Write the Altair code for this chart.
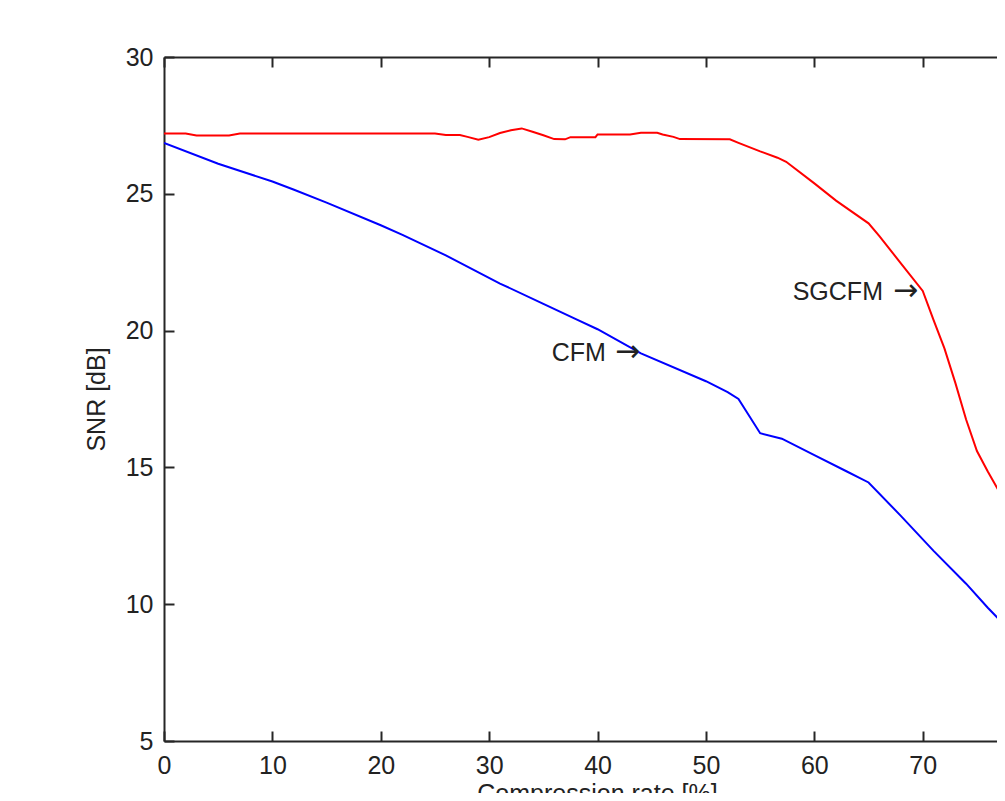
import altair as alt
import pandas as pd

# ---- data ----
sgcfm_x = [0, 2, 3, 6, 7, 25, 26, 27.3, 28, 29, 30, 31, 32, 33, 34, 35, 36, 37, 37.5, 39.8,
           40, 43, 44, 45.5, 46, 47, 47.6, 52.2, 53, 55, 56.6, 57.4, 60, 62, 65, 66, 68,
           70, 71, 72, 73, 74, 75, 76, 77, 78]
sgcfm_y = [27.2, 27.2, 27.13, 27.13, 27.2, 27.2, 27.15, 27.15, 27.08, 26.98, 27.07, 27.22,
           27.32, 27.39, 27.27, 27.14, 27.0, 26.99, 27.07, 27.07, 27.17, 27.17, 27.23, 27.23,
           27.17, 27.08, 27.0, 26.99, 26.86, 26.55, 26.32, 26.17, 25.38, 24.75, 23.92, 23.45,
           22.45, 21.45, 20.38, 19.35, 18.1, 16.75, 15.6, 14.85, 14.15, 13.3]

cfm_x = [0, 5, 10, 12, 15, 20, 22, 26, 31, 35, 38, 40, 44, 50, 52, 53, 55, 57, 60, 63,
         65, 68, 71, 74, 76, 78]
cfm_y = [26.86, 26.1, 25.45, 25.15, 24.68, 23.85, 23.5, 22.75, 21.72, 20.98, 20.42, 20.05,
         19.17, 18.15, 17.75, 17.5, 16.25, 16.05, 15.45, 14.85, 14.45, 13.22, 11.95, 10.75,
         9.87, 9.05]

label_text = ["CFM", "SGCFM"]
label_x = [35.77, 58.0]
label_y = [19.18, 21.42]
arrow_text = ["\u2192", "\u2192"]
arrow_x = [41.6, 67.25]

x_ticks = [0, 10, 20, 30, 40, 50, 60, 70]
y_ticks = [5, 10, 15, 20, 25, 30]

df_red = pd.DataFrame({"x": sgcfm_x, "y": sgcfm_y})
df_blue = pd.DataFrame({"x": cfm_x, "y": cfm_y})
df_lab = pd.DataFrame({"x": label_x, "y": label_y, "t": label_text})
df_arr = pd.DataFrame({"x": arrow_x, "y": label_y, "t": arrow_text})

W, H = 833, 684
FONT = "Liberation Sans"
INK = "#222222"

x_scale = alt.Scale(domain=[0, 76.85], nice=False, zero=False)
y_scale = alt.Scale(domain=[5, 30], nice=False, zero=False)

red = alt.Chart(df_red).mark_line(color="#ff0000", strokeWidth=2, clip=True).encode(
    x=alt.X("x:Q", scale=x_scale, axis=alt.Axis(
        orient="bottom", values=x_ticks, ticks=False, domain=True, grid=False,
        labelFlush=False, labelOverlap=False, labelBaseline="alphabetic", labelPadding=32,
        labelAlign="center",
        title="Compression rate [%]", titleX=433, titleY=60, titleBaseline="alphabetic",
        titleAlign="center")),
    y=alt.Y("y:Q", scale=y_scale, axis=alt.Axis(
        orient="left", values=y_ticks, ticks=False, domain=True, grid=False,
        labelFlush=False, labelOverlap=False, labelBaseline="middle", labelPadding=11,
        labelAlign="right",
        title="SNR [dB]", titleX=-68, titleY=342, titleAngle=270,
        titleBaseline="middle", titleAlign="center")),
)

blue = alt.Chart(df_blue).mark_line(color="#0000ff", strokeWidth=2, clip=True).encode(
    x=alt.X("x:Q", scale=x_scale, axis=alt.Axis(
        orient="top", offset=-H, values=x_ticks, labels=False, domain=False,
        ticks=True, tickSize=10, grid=False, title=None)),
    y=alt.Y("y:Q", scale=y_scale, axis=alt.Axis(
        orient="right", offset=-W, values=y_ticks, labels=False, domain=False,
        ticks=True, tickSize=10, grid=False, title=None)),
)

labels = alt.Chart(df_lab).mark_text(
    align="left", baseline="middle", font=FONT, fontSize=25, color=INK
).encode(
    x=alt.X("x:Q", scale=x_scale, axis=alt.Axis(
        orient="bottom", offset=-H, values=x_ticks, labels=False, domain=True,
        ticks=True, tickSize=10, grid=False, title=None)),
    y=alt.Y("y:Q", scale=y_scale, axis=None),
    text="t:N",
)

arrows = alt.Chart(df_arr).mark_text(
    align="left", baseline="middle", font="DejaVu Sans", fontSize=30, color=INK, dy=-1
).encode(
    x=alt.X("x:Q", scale=x_scale, axis=None),
    y=alt.Y("y:Q", scale=y_scale, axis=None),
    text="t:N",
)

chart = (
    alt.layer(red, blue, labels, arrows)
    .resolve_axis(x="independent", y="independent")
    .properties(
        width=W, height=H,
        autosize=alt.AutoSizeParams(type="none"),
        padding={"left": 156, "top": 49, "right": 0, "bottom": 52},
        background="white",
    )
    .configure_view(stroke=None)
    .configure_axis(
        labelFont=FONT, labelFontSize=25, labelColor=INK,
        titleFont=FONT, titleFontSize=25, titleColor=INK, titleFontWeight="normal",
        domainColor="#262626", domainWidth=2, tickColor="#262626", tickWidth=2,
    )
)

chart.save("out.html", embed_options={"renderer": "svg", "actions": False})
